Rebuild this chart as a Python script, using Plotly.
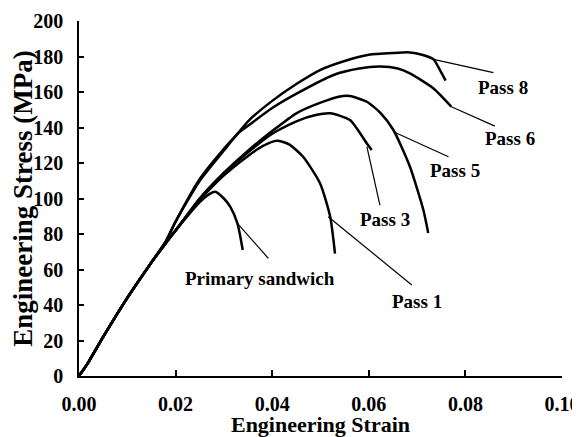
import plotly.graph_objects as go

# ---- data ----
primary_x = [0, 0.002, 0.005, 0.010, 0.015, 0.018, 0.020, 0.025, 0.027, 0.0282, 0.0300, 0.0313, 0.0328, 0.0339]
primary_y = [0, 8, 22, 44, 64, 75, 82, 98, 102.5, 103.8, 100, 95.4, 86, 71]

pass1_x = [0, 0.002, 0.005, 0.010, 0.015, 0.018, 0.020, 0.025, 0.030, 0.035, 0.038, 0.041, 0.0435, 0.0464, 0.0499, 0.0520, 0.0530]
pass1_y = [0, 8, 22, 44, 64, 75, 82, 99, 113, 124, 129.5, 132.5, 130.5, 123.5, 108.6, 89.8, 69]

pass3_x = [0, 0.002, 0.005, 0.010, 0.015, 0.018, 0.020, 0.025, 0.030, 0.035, 0.040, 0.045, 0.049, 0.052, 0.0561, 0.0596, 0.0606]
pass3_y = [0, 8, 22, 44, 64, 75, 82, 100, 114, 126, 136.5, 143.5, 147, 148, 144.2, 131, 127.3]

pass5_x = [0, 0.002, 0.005, 0.010, 0.015, 0.018, 0.020, 0.025, 0.030, 0.035, 0.040, 0.045, 0.050, 0.054, 0.0561, 0.0596, 0.0625, 0.0651, 0.0685, 0.0713, 0.0723]
pass5_y = [0, 8, 22, 44, 64, 75, 82, 100, 114.5, 127, 138, 148, 154, 157.5, 157.7, 154.5, 148, 138.6, 118, 93.5, 80.6]

pass6_x = [0, 0.002, 0.005, 0.010, 0.015, 0.018, 0.020, 0.025, 0.030, 0.033, 0.035, 0.040, 0.0458, 0.0527, 0.0580, 0.0623, 0.0660, 0.0685, 0.0734, 0.0771]
pass6_y = [0, 8, 22, 44, 64, 76, 87, 110, 127, 137, 141, 151, 160.2, 169.6, 173.2, 174.3, 173.2, 170.5, 162, 151.7]

pass8_x = [0, 0.002, 0.005, 0.010, 0.015, 0.018, 0.020, 0.025, 0.030, 0.033, 0.035, 0.040, 0.045, 0.050, 0.055, 0.060, 0.065, 0.0685, 0.071, 0.0734, 0.0748, 0.0759]
pass8_y = [0, 8, 22, 44, 64, 76, 87, 111, 128, 137, 143.5, 155, 164.5, 172.5, 177.5, 181, 182, 182.3, 181, 178.4, 172, 166.4]

series_names = ["Primary sandwich", "Pass 1", "Pass 3", "Pass 5", "Pass 6", "Pass 8"]
series_x = [primary_x, pass1_x, pass3_x, pass5_x, pass6_x, pass8_x]
series_y = [primary_y, pass1_y, pass3_y, pass5_y, pass6_y, pass8_y]

x_ticks = [0, 0.02, 0.04, 0.06, 0.08, 0.10]
x_tick_labels = ["0.00", "0.02", "0.04", "0.06", "0.08", "0.10"]
y_ticks = [0, 20, 40, 60, 80, 100, 120, 140, 160, 180, 200]

FONT = "Liberation Serif, Times New Roman, serif"

fig = go.Figure()
for name, xs, ys in zip(series_names, series_x, series_y):
    fig.add_trace(go.Scatter(
        x=xs, y=ys, mode="lines", name=name,
        line=dict(color="black", width=2.5, shape="spline", smoothing=0.6),
        showlegend=False, hoverinfo="skip",
    ))

# label callouts: (label, point on curve, line end, label position)
callouts = [
    ("Primary sandwich", (0.0328, 86), (0.0392, 66.3), (0.0375, 55.2)),
    ("Pass 1", (0.0516, 89.7), (0.0689, 51.3), (0.0699, 41.9)),
    ("Pass 3", (0.0596, 129.2), (0.0623, 96.3), (0.0634, 88.3)),
    ("Pass 5", (0.0651, 137.6), (0.0765, 123.5), (0.0778, 115.7)),
    ("Pass 6", (0.0771, 151.7), (0.0861, 140.8), (0.0892, 133.9)),
    ("Pass 8", (0.0734, 178.4), (0.0858, 170.9), (0.0878, 162.6)),
]
for label, p0, p1, pl in callouts:
    fig.add_shape(type="line", x0=p0[0], y0=p0[1], x1=p1[0], y1=p1[1],
                  xref="x", yref="y", line=dict(color="black", width=1.2))
    fig.add_annotation(x=pl[0], y=pl[1], text=label, showarrow=False,
                       xanchor="center", yanchor="middle",
                       font=dict(family=FONT, size=19, color="black", weight="bold"))

# the page body adds an 8px offset, so the figure is 8px smaller and margins compensate
fig.update_layout(
    width=572, height=429,
    margin=dict(l=71, r=17.5, t=12.7, b=61),
    paper_bgcolor="white", plot_bgcolor="white",
    font=dict(family=FONT, color="black"),
)
fig.update_xaxes(
    range=[0, 0.1], tickvals=x_ticks, ticktext=x_tick_labels,
    showline=True, linecolor="black", linewidth=1.5,
    ticks="inside", ticklen=6, tickwidth=1.5, tickcolor="black",
    showgrid=False, zeroline=False,
    tickfont=dict(family=FONT, size=20, color="black", weight="bold"),
    ticklabelstandoff=9,
    title=dict(text="Engineering Strain", standoff=7,
               font=dict(family=FONT, size=22, color="black", weight="bold")),
    automargin=False,
)
fig.update_yaxes(
    range=[0, 200], tickvals=y_ticks,
    showline=True, linecolor="black", linewidth=1.5,
    ticks="inside", ticklen=5, tickwidth=1.5, tickcolor="black",
    showgrid=False, zeroline=False,
    tickfont=dict(family=FONT, size=20, color="black", weight="bold"),
    ticklabelstandoff=10,
    title=dict(text="Engineering Stress (MPa)", standoff=2,
               font=dict(family=FONT, size=27, color="black", weight="bold")),
    automargin=False,
)

fig.write_html("out.html")
